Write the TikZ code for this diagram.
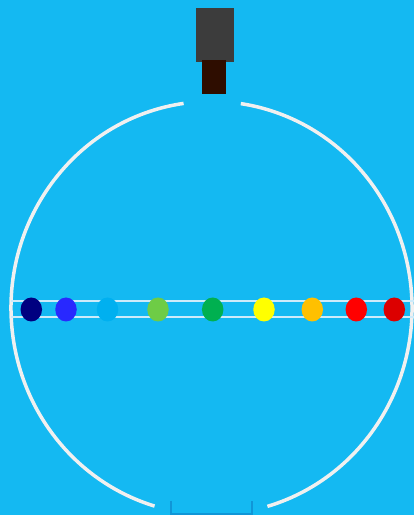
\documentclass[tikz,border=0pt]{standalone}
\usetikzlibrary{shapes.geometric}
\definecolor{bg}{RGB}{20,185,242}
\definecolor{ringc}{RGB}{240,240,240}
\definecolor{bandc}{RGB}{205,235,250}
\definecolor{camgray}{RGB}{60,60,60}
\definecolor{lensbrown}{RGB}{46,13,0}
\definecolor{trayc}{RGB}{16,150,215}
\definecolor{c1}{RGB}{0,0,128}
\definecolor{c2}{RGB}{40,40,255}
\definecolor{c3}{RGB}{0,176,240}
\definecolor{c4}{RGB}{110,204,70}
\definecolor{c5}{RGB}{0,176,80}
\definecolor{c6}{RGB}{255,255,0}
\definecolor{c7}{RGB}{255,192,0}
\definecolor{c8}{RGB}{255,0,0}
\definecolor{c9}{RGB}{220,0,0}
\tikzset{
  ring/.style={draw=ringc, line width=3.5pt},
  bandline/.style={draw=bandc, line width=1.2pt},
  dot/.style={ellipse, minimum width=21.5pt, minimum height=24pt, inner sep=0pt, draw=none, fill=#1},
  block/.style={rectangle, inner sep=0pt, draw=none}
}
\begin{document}
\begin{tikzpicture}[x=1pt,y=1pt]
\fill[bg] (0,0) rectangle (414,515);
\useasboundingbox (0,0) rectangle (414,515);
\coordinate (c) at (211.5,207);
% ring arcs
\draw[ring] (c) ++(98:200.5pt and 206.6pt) arc[start angle=98, end angle=253.5, x radius=200.5pt, y radius=206.6pt];
\draw[ring] (c) ++(-73.8:200.5pt and 206.6pt) arc[start angle=-73.8, end angle=81.6, x radius=200.5pt, y radius=206.6pt];
% band
\coordinate (b1l) at (11,214);
\coordinate (b1r) at (414,214);
\coordinate (b2l) at (11,198);
\coordinate (b2r) at (414,198);
\draw[bandline] (b1l) -- (b1r);
\draw[bandline] (b2l) -- (b2r);
% dots
\node[dot=c1] (d1) at (31.3,205.5) {};
\node[dot=c2] (d2) at (66,205.5) {};
\node[dot=c3] (d3) at (107.5,205.5) {};
\node[dot=c4] (d4) at (158,205.5) {};
\node[dot=c5] (d5) at (212.7,205.5) {};
\node[dot=c6] (d6) at (264,205.5) {};
\node[dot=c7] (d7) at (312.3,205.5) {};
\node[dot=c8] (d8) at (356.3,205.5) {};
\node[dot=c9] (d9) at (394.3,205.5) {};
% camera
\node[block, fill=camgray, minimum width=38pt, minimum height=54pt] (cam) at (215,480) {};
\node[block, fill=lensbrown, minimum width=24pt, minimum height=34pt] (lens) at (214,438) {};
% tray
\coordinate (t1) at (171,14);
\coordinate (t2) at (171,1);
\coordinate (t3) at (252,1);
\coordinate (t4) at (252,14);
\draw[trayc, line width=1.2pt] (t1) -- (t2) -- (t3) -- (t4);
\end{tikzpicture}
\end{document}
